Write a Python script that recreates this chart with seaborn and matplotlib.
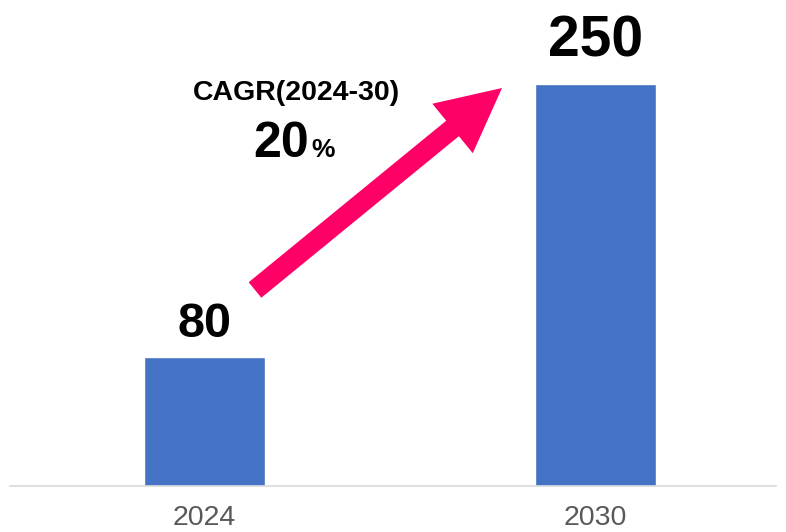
import matplotlib
matplotlib.use("Agg")
import matplotlib.pyplot as plt
from matplotlib.patches import FancyArrowPatch
import seaborn as sns
import pandas as pd

years = ["2024", "2030"]
values = [80, 250]
cagr_title = "CAGR(2024-30)"
cagr_value = "20"

sns.set_theme(style="white")
plt.rcParams["font.family"] = ["Liberation Sans", "DejaVu Sans"]

W, H = 786, 532
fig = plt.figure(figsize=(W / 100, H / 100), dpi=100)
ax = fig.add_axes([10 / W, 46 / H, 766 / W, 486 / H])

df = pd.DataFrame({"year": years, "value": values})
sns.barplot(data=df, x="year", y="value", color="#4472C4", saturation=1,
            width=0.31, ax=ax)

ax.set_xlim(-0.497, 1.462)
ax.set_ylim(0, 302.2)
ax.set_xlabel("")
ax.set_ylabel("")
ax.set_yticks([])
ax.tick_params(axis="x", length=0, pad=13.5, labelsize=20.5, labelcolor="#595959")
for side in ["left", "right", "top"]:
    ax.spines[side].set_visible(False)
ax.spines["bottom"].set_color("#d9d9d9")
ax.spines["bottom"].set_linewidth(1.2)

# value labels above bars
label_sizes = [35, 41]
label_offsets = [15, 20]
for i, (v, fs, off) in enumerate(zip(values, label_sizes, label_offsets)):
    ax.annotate(str(v), xy=(i, v), xytext=(0, off), textcoords="offset points",
                ha="center", va="baseline", fontsize=fs, fontweight="bold",
                color="black")

# growth arrow
arrow = FancyArrowPatch(
    posA=(255 / W, 1 - 290 / H), posB=(502 / W, 1 - 88 / H),
    transform=fig.transFigure,
    arrowstyle="simple,head_length=46,head_width=46,tail_width=14.4",
    mutation_scale=1, shrinkA=0, shrinkB=0,
    color="#FF0066", lw=0)
fig.patches.append(arrow)

# CAGR annotation
fig.text(296 / W, 1 - 100 / H, cagr_title, ha="center", va="baseline",
         fontsize=20.5, fontweight="bold", color="black")
fig.text(309 / W, 1 - 157 / H, cagr_value, ha="right", va="baseline",
         fontsize=36, fontweight="bold", color="black")
fig.text(311 / W, 1 - 157 / H, "%", ha="left", va="baseline",
         fontsize=19, fontweight="bold", color="black")

fig.savefig("out.png", dpi=100, facecolor="white")
